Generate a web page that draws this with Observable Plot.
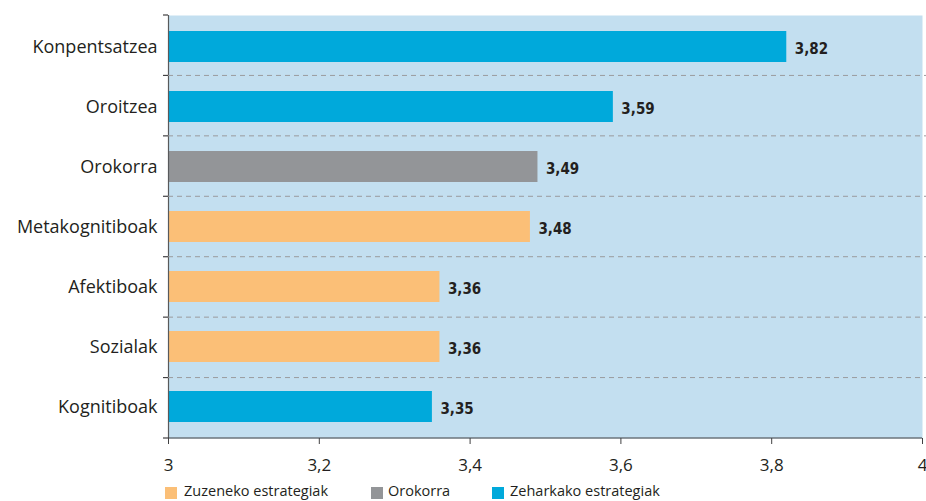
<!DOCTYPE html>
<html>
<head>
<meta charset="utf-8">
<script src="https://cdn.jsdelivr.net/npm/d3@7"></script>
<script src="https://cdn.jsdelivr.net/npm/@observablehq/plot@0.6"></script>
<style>
  html, body { margin: 0; padding: 0; background: #fff; }
  #chart { width: 926px; height: 478px; }
  .legend { position: relative; height: 23px; width: 926px; font-family: "Open Sans", "Noto Sans", sans-serif; font-size: 14.5px; color: #231f20; }
  .legend .sw { position: absolute; top: 9px; width: 12px; height: 12px; }
  .legend .lb { position: absolute; top: 3px; line-height: 20px; white-space: nowrap; }
</style>
</head>
<body>
<div id="chart"></div>
<script>
const categories = ["Konpentsatzea", "Oroitzea", "Orokorra", "Metakognitiboak", "Afektiboak", "Sozialak", "Kognitiboak"];
const values = [3.82, 3.59, 3.49, 3.48, 3.36, 3.36, 3.35];
const groups = ["Zeharkako estrategiak", "Zeharkako estrategiak", "Orokorra", "Zuzeneko estrategiak", "Zuzeneko estrategiak", "Zuzeneko estrategiak", "Zeharkako estrategiak"];
const legendOrder = ["Zuzeneko estrategiak", "Orokorra", "Zeharkako estrategiak"];
const legendColors = ["#fbbf77", "#939598", "#00a9db"];
const xTicks = [3, 3.2, 3.4, 3.6, 3.8, 4];

const data = categories.map((c, i) => ({category: c, value: values[i], group: groups[i]}));
const fmt = d => String(d).replace(".", ",");
const fmtVal = d => d.toFixed(2).replace(".", ",");

const plot = Plot.plot({
  width: 926,
  height: 478,
  marginTop: 15,
  marginBottom: 40,
  marginLeft: 168,
  marginRight: 4,
  style: {fontFamily: "'Open Sans', 'Noto Sans', sans-serif", color: "#231f20", background: "#fff", overflow: "visible"},
  x: {domain: [3, 4], axis: null},
  y: {domain: categories, paddingInner: 0.48, paddingOuter: 0.24, axis: null},
  color: {domain: legendOrder, range: legendColors},
  marks: [
    Plot.frame({fill: "#c3dff0", stroke: null}),
    Plot.barX(data, {x1: 3, x2: "value", y: "category", fill: "group"}),
    Plot.text(data, {x: "value", y: "category", text: d => fmtVal(d.value), textAnchor: "start", dx: 8, dy: 2,
      fontWeight: "bold", fontSize: 15, fill: "#231f20",
      fontFamily: "'Liberation Sans Narrow', 'DejaVu Sans Condensed', 'Roboto Condensed', 'Open Sans', sans-serif"}),
    Plot.axisY({tickSize: 0, tickPadding: 11, fontSize: 18, fill: "#231f20", label: null}),
    Plot.axisX({ticks: xTicks, tickFormat: fmt, tickSize: 6, tickPadding: 14, fontSize: 17, stroke: "#414042", fill: "#231f20", label: null}),
    Plot.ruleX([3], {stroke: "#58595b", strokeWidth: 1.2})
  ]
});

document.getElementById("chart").appendChild(plot);

// boundaries of the bands (derived from the y scale's range)
const ys = plot.scale("y");
const xs = plot.scale("x");
const [y0, y1] = ys.range;
const n = categories.length;
const bounds = d3.range(n + 1).map(i => y0 + i * (y1 - y0) / n);
const xLeft = xs.apply(3), xRight = xs.apply(4);
const svg = d3.select(plot);
const g = svg.append("g");
g.selectAll("line.grid").data(bounds.slice(1, n)).join("line")
  .attr("x1", xLeft).attr("x2", 926).attr("y1", d => d).attr("y2", d => d)
  .attr("stroke", "#9a9b9e").attr("stroke-dasharray", "5,4").attr("stroke-width", 1);
g.selectAll("line.tk").data(bounds).join("line")
  .attr("x1", xLeft - 5).attr("x2", xLeft).attr("y1", d => d).attr("y2", d => d)
  .attr("stroke", "#414042").attr("stroke-width", 1.2);
g.append("line").attr("x1", xLeft).attr("x2", xRight).attr("y1", y1).attr("y2", y1)
  .attr("stroke", "#414042").attr("stroke-width", 1.2);

// legend
const swatchX = [165, 371, 492];
const labelX = [184, 388, 510];
const legend = d3.select("body").append("div").attr("class", "legend");
legendOrder.forEach((k, i) => {
  legend.append("div").attr("class", "sw").style("left", swatchX[i] + "px").style("background", legendColors[i]);
  legend.append("span").attr("class", "lb").style("left", labelX[i] + "px").text(k);
});
</script>
</body>
</html>
